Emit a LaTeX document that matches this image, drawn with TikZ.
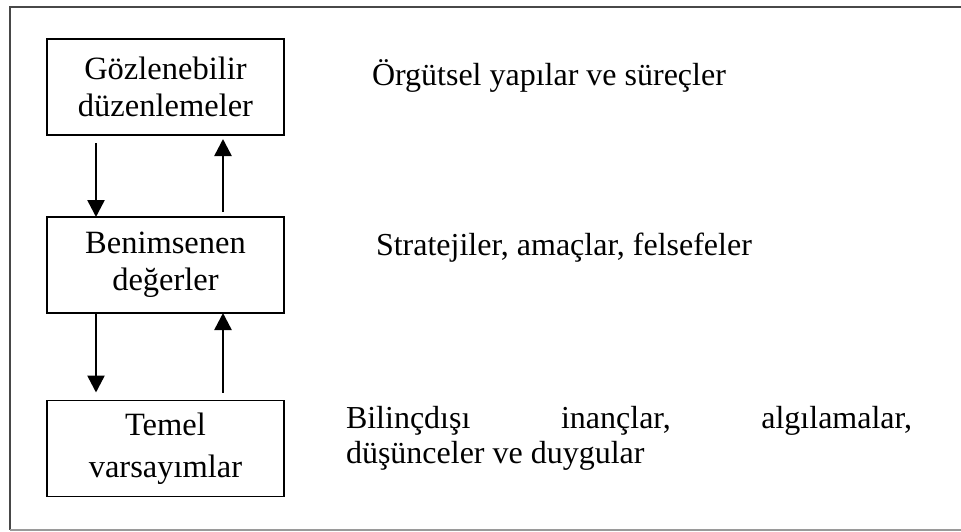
\documentclass[tikz,border=0pt]{standalone}
\usepackage{fontspec}
\setmainfont{Liberation Serif}
\usetikzlibrary{arrows.meta}
\definecolor{framedark}{HTML}{484848}
\definecolor{framelight}{HTML}{9A9A9A}
\begin{document}
\begin{tikzpicture}[x=1pt,y=-1pt,
  every node/.style={inner sep=0pt, outer sep=0pt},
  level/.style={draw=black, line width=1.1pt, minimum width=237pt, minimum height=96pt,
    align=center, font=\fontsize{32.5}{37}\selectfont},
  note/.style={anchor=base west, align=left, font=\fontsize{32}{35}\selectfont},
  flow/.style={line width=2.5pt, -{Triangle[length=17pt,width=17pt]}}]
  \useasboundingbox (0,0) rectangle (961,531);
  % open frame around the figure
  \draw[framedark, line width=2pt] (961,7) -- (9.5,7) -- (9.5,530);
  \draw[framelight, line width=2pt] (9.5,530) -- (961,530);
  % the three levels
  \node[level] (obs) at (165.5,87)   {Gözlenebilir\\düzenlemeler};
  \node[level] (val) at (165.5,265)  {Benimsenen\\değerler};
  \node[level, font=\fontsize{32.5}{42}\selectfont] (bas) at (165.5,448.5) {Temel\\varsayımlar};
  % arrows between levels
  \draw[flow] ([shift={(-69.5,8)}]obs.south) -- ([xshift=-69.5]val.north);
  \draw[flow] ([shift={(57.5,-5)}]val.north) -- ([shift={(57.5,4)}]obs.south);
  \draw[flow] ([xshift=-69.5]val.south) -- ([shift={(-69.5,-8)}]bas.north);
  \draw[flow] ([shift={(57.5,-8)}]bas.north) -- ([xshift=57.5]val.south);
  % descriptions (a multi-line node sits on its last baseline)
  \node[note] (d1) at (372,85)  {Örgütsel yapılar ve süreçler};
  \node[note] (d2) at (376,255) {Stratejiler, amaçlar, felsefeler};
  \node[note] (d3) at (346,463) {\makebox[566pt][s]{Bilinçdışı\hfill inançlar,\hfill algılamalar,}\\düşünceler ve duygular};
\end{tikzpicture}
\end{document}
